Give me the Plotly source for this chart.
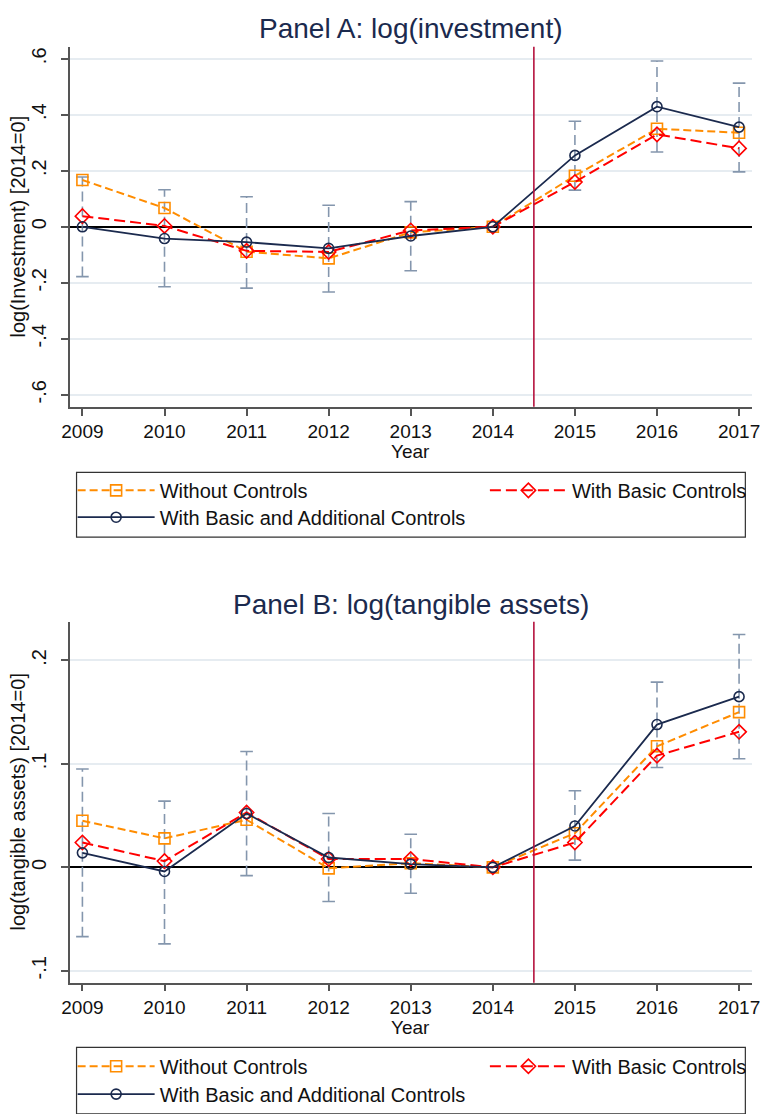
import plotly.graph_objects as go

W, H = 770, 1114

# ---------------- data ----------------
years = [2009, 2010, 2011, 2012, 2013, 2014, 2015, 2016, 2017]
year_labels = [str(y) for y in years]

# Panel A: log(investment)
A_without = [0.167, 0.067, -0.089, -0.113, -0.020, 0.0, 0.182, 0.350, 0.336]
A_basic = [0.038, 0.003, -0.086, -0.090, -0.013, 0.0, 0.160, 0.330, 0.280]
A_additional = [0.0, -0.042, -0.055, -0.077, -0.033, 0.0, 0.255, 0.429, 0.356]
A_ci_low = [-0.178, -0.214, -0.219, -0.233, -0.157, None, 0.131, 0.267, 0.196]
A_ci_high = [0.178, 0.132, 0.107, 0.077, 0.090, None, 0.377, 0.592, 0.513]
A_ticks = [-0.6, -0.4, -0.2, 0, 0.2, 0.4, 0.6]
A_ticktext = ["-.6", "-.4", "-.2", "0", ".2", ".4", ".6"]

# Panel B: log(tangible assets)
B_without = [0.045, 0.028, 0.046, -0.001, 0.004, 0.0, 0.033, 0.117, 0.150]
B_basic = [0.024, 0.006, 0.053, 0.008, 0.008, 0.0, 0.024, 0.108, 0.131]
B_additional = [0.014, -0.004, 0.052, 0.0095, 0.003, 0.0, 0.040, 0.138, 0.165]
B_ci_low = [-0.067, -0.074, -0.008, -0.033, -0.025, None, 0.007, 0.0965, 0.105]
B_ci_high = [0.095, 0.064, 0.112, 0.052, 0.032, None, 0.074, 0.179, 0.225]
B_ticks = [-0.1, 0, 0.1, 0.2]
B_ticktext = ["-.1", "0", ".1", ".2"]

event_year = 2014.5
series_names = ["Without Controls", "With Basic Controls",
                "With Basic and Additional Controls"]

# ---------------- style ----------------
FONT = "Liberation Sans, Arial, Helvetica, sans-serif"
NAVY = "#1b2a4e"
ORANGE = "#ff8c00"
RED = "#ff0000"
CI_COL = "#8496ad"
VLINE = "#b5123e"
AXCOL = "#555555"
GRID = "#e6ecf1"


def px_x(p):
    return p / W


def px_y(p):
    return 1 - p / H


fig = go.Figure()


def add_panel(xa, ya, without, basic, additional, lo, hi, legs):
    # confidence intervals (dashed vertical bars with caps)
    xs, ys, cx, cy = [], [], [], []
    for yr, l, h in zip(years, lo, hi):
        if l is None or h is None:
            continue
        xs += [yr, yr, None]
        ys += [l, h, None]
        cx += [yr, yr]
        cy += [l, h]
    fig.add_trace(go.Scatter(x=xs, y=ys, mode="lines", xaxis=xa, yaxis=ya,
                             line=dict(color=CI_COL, width=1.6, dash="10px,5px"),
                             showlegend=False, hoverinfo="skip"))
    fig.add_trace(go.Scatter(x=cx, y=cy, mode="markers", xaxis=xa, yaxis=ya,
                             marker=dict(symbol="line-ew", size=9,
                                         line=dict(color=CI_COL, width=1.6)),
                             showlegend=False, hoverinfo="skip"))
    # series
    fig.add_trace(go.Scatter(x=years, y=without, mode="lines+markers",
                             name=series_names[0], xaxis=xa, yaxis=ya, legend=legs[0],
                             line=dict(color=ORANGE, width=2, dash="8px,4px"),
                             marker=dict(symbol="square-open", size=11,
                                         color=ORANGE, line=dict(width=1.6))))
    fig.add_trace(go.Scatter(x=years, y=basic, mode="lines+markers",
                             name=series_names[1], xaxis=xa, yaxis=ya, legend=legs[1],
                             line=dict(color=RED, width=2, dash="11px,5px"),
                             marker=dict(symbol="diamond-open", size=11,
                                         color=RED, line=dict(width=1.6))))
    fig.add_trace(go.Scatter(x=years, y=additional, mode="lines+markers",
                             name=series_names[2], xaxis=xa, yaxis=ya, legend=legs[2],
                             line=dict(color=NAVY, width=1.8),
                             marker=dict(symbol="circle-open", size=10,
                                         color=NAVY, line=dict(width=1.6))))


add_panel("x", "y", A_without, A_basic, A_additional, A_ci_low, A_ci_high,
          ["legend", "legend2", "legend3"])
add_panel("x2", "y2", B_without, B_basic, B_additional, B_ci_low, B_ci_high,
          ["legend4", "legend5", "legend6"])

xrange = [2008.845, 2017.16]
xaxis_common = dict(range=xrange, tickvals=years, ticktext=year_labels,
                    showline=True, linecolor=AXCOL, linewidth=1.5,
                    ticks="outside", ticklen=7, tickwidth=1.5, tickcolor=AXCOL,
                    showgrid=False, zeroline=False,
                    tickfont=dict(family=FONT, size=19, color="#111111"))
yaxis_common = dict(showline=True, linecolor=AXCOL, linewidth=1.5,
                    ticks="outside", ticklen=7, tickwidth=1.5, tickcolor=AXCOL,
                    showgrid=True, gridcolor=GRID, gridwidth=1.5,
                    zeroline=True, zerolinecolor="#000000", zerolinewidth=1.6,
                    tickangle=-90, ticklabelstandoff=7,
                    tickfont=dict(family=FONT, size=20, color="#111111"))

dom_x = [px_x(63), px_x(760)]
fig.update_layout(
    width=W, height=H, margin=dict(l=0, r=0, t=0, b=0),
    paper_bgcolor="white", plot_bgcolor="white",
    font=dict(family=FONT, color="#111111"),
    xaxis=dict(domain=dom_x, anchor="y", **xaxis_common),
    yaxis=dict(domain=[px_y(409), px_y(47)], anchor="x", range=[-0.643, 0.643],
               tickvals=A_ticks, ticktext=A_ticktext, **yaxis_common),
    xaxis2=dict(domain=dom_x, anchor="y2", **xaxis_common),
    yaxis2=dict(domain=[px_y(988), px_y(625)], anchor="x2", range=[-0.1115, 0.2375],
                tickvals=B_ticks, ticktext=B_ticktext, **yaxis_common),
    showlegend=True,
)

# legends: one per entry to reproduce the Stata two-column layout
leg_pos = {
    "legend": (66, 493), "legend2": (487, 493), "legend3": (66, 520),
    "legend4": (66, 1072), "legend5": (487, 1072), "legend6": (66, 1100),
}
for name, (lx, ly) in leg_pos.items():
    fig.update_layout({name: dict(x=px_x(lx), y=px_y(ly), xanchor="left", yanchor="middle",
                                  bgcolor="rgba(0,0,0,0)", borderwidth=0,
                                  itemwidth=77, itemclick=False,
                                  font=dict(family=FONT, size=20, color="#111111"))})

shapes = []
for xa, ya in [("x", "y"), ("x2", "y2")]:
    shapes.append(dict(type="line", xref=xa, yref=f"{ya} domain",
                       x0=event_year, x1=event_year, y0=0, y1=1,
                       line=dict(color=VLINE, width=1.6)))
# legend boxes
shapes.append(dict(type="rect", xref="paper", yref="paper",
                   x0=px_x(70), x1=px_x(753), y0=px_y(540), y1=px_y(475),
                   line=dict(color="#333333", width=1.2)))
shapes.append(dict(type="rect", xref="paper", yref="paper",
                   x0=px_x(70), x1=px_x(753), y0=px_y(1120), y1=px_y(1053),
                   line=dict(color="#333333", width=1.2)))
fig.update_layout(shapes=shapes)

ann = []
titles = [("Panel A: log(investment)", 29), ("Panel B: log(tangible assets)", 608)]
for t, yp in titles:
    ann.append(dict(text=t, x=px_x(411.5), y=px_y(yp), xref="paper", yref="paper",
                    xanchor="center", yanchor="middle", showarrow=False,
                    font=dict(family=FONT, size=28, color=NAVY)))
for yp in [454, 1033]:
    ann.append(dict(text="Year", x=px_x(411.5), y=px_y(yp), xref="paper", yref="paper",
                    xanchor="center", yanchor="middle", showarrow=False,
                    font=dict(family=FONT, size=19, color="#111111")))
ytitles = [("log(Investment) [2014=0]", 228), ("log(tangible assets) [2014=0]", 806)]
for t, yp in ytitles:
    ann.append(dict(text=t, x=px_x(10), y=px_y(yp), xref="paper", yref="paper",
                    xanchor="center", yanchor="middle", textangle=-90, showarrow=False,
                    font=dict(family=FONT, size=20, color="#111111")))
fig.update_layout(annotations=ann)

fig.write_html("out.html")
